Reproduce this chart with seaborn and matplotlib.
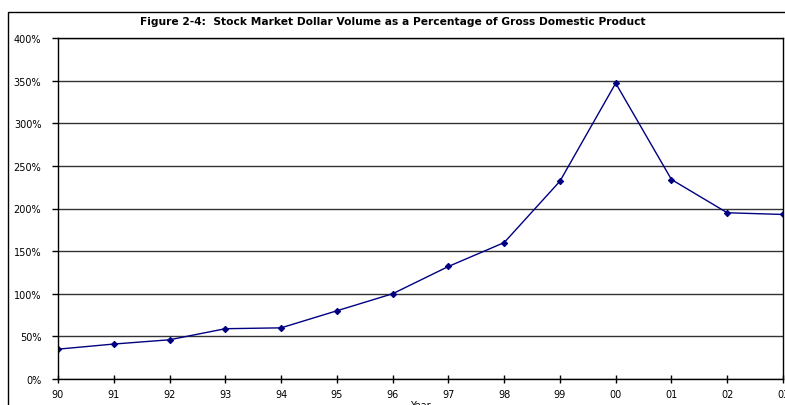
import matplotlib
matplotlib.use("Agg")
import matplotlib.pyplot as plt
import matplotlib.patches as mpatches
from matplotlib.ticker import FuncFormatter, MultipleLocator
import seaborn as sns
import pandas as pd

years = ["90", "91", "92", "93", "94", "95", "96", "97", "98", "99", "00", "01", "02", "03"]
pct = [35, 41, 46, 59, 60, 80, 100, 132, 160, 232, 347, 234, 195, 193]

sns.set_theme(style="white")
plt.rcParams['font.family'] = ['DejaVu Sans']

df = pd.DataFrame({"idx": list(range(len(years))), "pct": pct})

fig = plt.figure(figsize=(7.85, 4.06), dpi=100)
ax = fig.add_axes([58/785, 1-380/406, (783-58)/785, (380-39)/406])

sns.lineplot(data=df, x="idx", y="pct", ax=ax, color="#000080", linewidth=1,
             marker="D", markersize=3.2, markeredgecolor="#000080", markerfacecolor="#000080")

ax.set_xlim(0, len(years)-1)
ax.set_ylim(0, 400)
ax.yaxis.set_major_locator(MultipleLocator(50))
ax.yaxis.set_major_formatter(FuncFormatter(lambda v, p: f"{int(v)}%"))
ax.set_xticks(range(len(years)))
ax.set_xticklabels(years)
ax.grid(axis="y", color="#333333", linewidth=1)
ax.set_axisbelow(True)
for s in ax.spines.values():
    s.set_color("black")
    s.set_linewidth(1)
ax.tick_params(axis="x", direction="inout", length=6, width=1, color="black",
               labelsize=7, pad=4, labelcolor="black")
ax.tick_params(axis="y", direction="out", length=4, width=1, color="black",
               labelsize=7, pad=8, labelcolor="black")
ax.tick_params(bottom=True, left=True)
ax.set_xlabel("Year", fontsize=7, labelpad=1, color="black")
ax.set_ylabel("")

fig.text(393/785, 1-22/406, "Figure 2-4:  Stock Market Dollar Volume as a Percentage of Gross Domestic Product",
         ha="center", va="center", fontsize=7.7, fontweight="bold", color="black")

rect = mpatches.Rectangle((8/785, -0.1), 1.0, 1.1 - 13/406, transform=fig.transFigure,
                          fill=False, edgecolor="black", linewidth=1, clip_on=False)
fig.patches.append(rect)

fig.savefig("out.png", dpi=100)
